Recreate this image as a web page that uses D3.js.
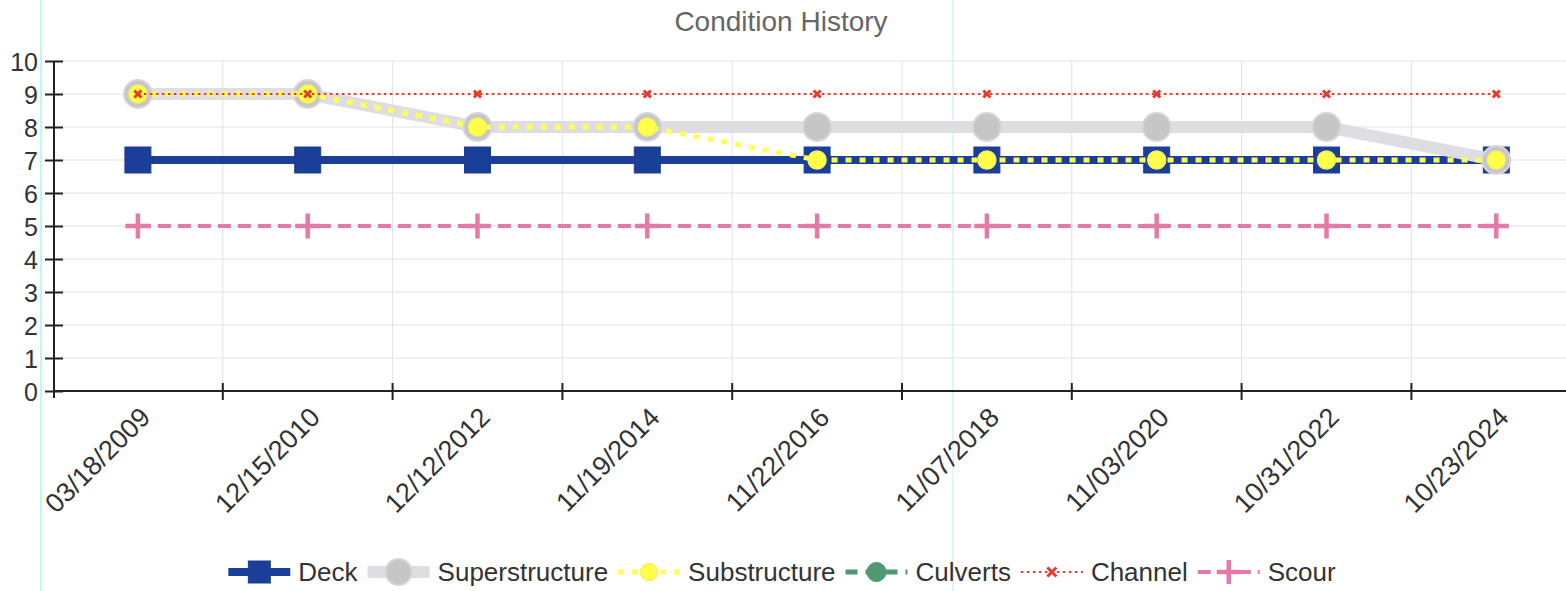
<!DOCTYPE html>
<html lang="en">
<head>
    <meta charset="UTF-8">
    <title>Condition History</title>
    <script src="https://d3js.org/d3.v7.min.js"></script>
    <style>
        body {
            margin: 0;
            background: #fff;
            font-family: "Liberation Sans", Arial, sans-serif;
        }
        svg { display: block; }
        .grid line { stroke: #e2e2e2; stroke-width: 1; }
        .axis path, .axis line { stroke: #222; stroke-width: 2; }
        .axis text { fill: #333; font-size: 25px; font-family: "Liberation Sans", Arial, sans-serif; }
    </style>
</head>
<body>
    <svg width="1566" height="591"></svg>

    <script>
        // inspection dates (x categories)
        const dates = ["03/18/2009", "12/15/2010", "12/12/2012", "11/19/2014", "11/22/2016",
                       "11/07/2018", "11/03/2020", "10/31/2022", "10/23/2024"];

        // ratings per component
        const deck           = [7, 7, 7, 7, 7, 7, 7, 7, 7];
        const superstructure = [9, 9, 8, 8, 8, 8, 8, 8, 7];
        const substructure   = [9, 9, 8, 8, 7, 7, 7, 7, 7];
        const culverts       = [null, null, null, null, null, null, null, null, null];
        const channel        = [9, 9, 9, 9, 9, 9, 9, 9, 9];
        const scour          = [5, 5, 5, 5, 5, 5, 5, 5, 5];

        const yTicks = [0, 1, 2, 3, 4, 5, 6, 7, 8, 9, 10];

        const width = 1566;
        const height = 591;
        const svg = d3.select("svg");

        const x = d3.scaleBand().domain(dates).range([53, 53 + 9 * 169.8]);
        const y = d3.scaleLinear().domain([0, 10]).range([391, 61]);
        const cx = d => x(d) + x.bandwidth() / 2;

        // scan artefact lines
        svg.append("line").attr("x1", 41).attr("x2", 41).attr("y1", 0).attr("y2", height)
            .attr("stroke", "#aef0f2").attr("stroke-width", 1.5);
        svg.append("line").attr("x1", 953).attr("x2", 953).attr("y1", 0).attr("y2", height)
            .attr("stroke", "#c8f4f4").attr("stroke-width", 1.2);

        // title
        svg.append("text")
            .attr("x", 781).attr("y", 31)
            .attr("text-anchor", "middle")
            .attr("fill", "#666")
            .style("font-size", "28px")
            .text("Condition History");

        // gridlines
        const grid = svg.append("g").attr("class", "grid");
        grid.selectAll(".h").data(yTicks.slice(1)).join("line")
            .attr("x1", 54).attr("x2", width)
            .attr("y1", d => y(d)).attr("y2", d => y(d));
        grid.selectAll(".v").data(dates.slice(1)).join("line")
            .attr("x1", d => x(d)).attr("x2", d => x(d))
            .attr("y1", 61).attr("y2", 391);

        // y axis
        const yAxis = svg.append("g").attr("class", "axis")
            .attr("transform", "translate(54,0)")
            .call(d3.axisLeft(y).tickValues(yTicks).tickSize(9).tickPadding(7).tickSizeOuter(0));
        yAxis.selectAll(".tick line").attr("x2", 9).attr("x1", -9);
        yAxis.select(".domain").attr("d", "M0,61V398");
        yAxis.selectAll(".tick text").attr("x", -16).attr("dy", "0.36em");

        // x axis
        const xAxis = svg.append("g").attr("class", "axis")
            .attr("transform", "translate(0,391)");
        xAxis.append("line").attr("x1", 54).attr("x2", width).attr("y1", 0).attr("y2", 0);
        xAxis.selectAll(".xt").data(dates.slice(1)).join("line")
            .attr("x1", d => x(d)).attr("x2", d => x(d))
            .attr("y1", -8).attr("y2", 9);
        xAxis.selectAll(".xl").data(dates).join("text")
            .attr("text-anchor", "end")
            .style("font-size", "27px")
            .attr("transform", d => `translate(${cx(d) + 14},${28}) rotate(-45)`)
            .text(d => d);

        // marker shapes
        function marker(sel, type, size, fill, stroke, sw) {
            if (type === "square") {
                sel.append("rect").attr("x", -size / 2).attr("y", -size / 2)
                    .attr("width", size).attr("height", size)
                    .attr("fill", fill).attr("stroke", stroke).attr("stroke-width", sw);
            } else if (type === "circle") {
                sel.append("circle").attr("r", size / 2)
                    .attr("fill", fill).attr("stroke", stroke).attr("stroke-width", sw);
            } else if (type === "cross") {
                const s = size / 2;
                sel.append("path").attr("d", `M${-s},${-s}L${s},${s}M${-s},${s}L${s},${-s}`)
                    .attr("stroke", stroke).attr("stroke-width", sw).attr("fill", "none");
            } else if (type === "plus") {
                const s = size / 2;
                sel.append("path").attr("d", `M${-s},0H${s}M0,${-s}V${s}`)
                    .attr("stroke", stroke).attr("stroke-width", sw).attr("fill", "none");
            } else if (type === "hex") {
                sel.append("path").attr("d", d3.symbol(d3.symbolCircle, size * size * 0.8)())
                    .attr("fill", fill).attr("stroke", stroke).attr("stroke-width", sw);
            }
        }

        const series = [
            { name: "Deck", values: deck, color: "#1b3f98", width: 8, dash: null,
              mk: "square", size: 26, fill: "#1b3f98", mstroke: "#1b3f98", msw: 1,
              lsize: 22 },
            { name: "Superstructure", values: superstructure, color: "#dedee2", width: 12, dash: null,
              mk: "circle", size: 28, fill: "#c6c6c9", mstroke: "#d6d6d8", msw: 2,
              lsize: 26 },
            { name: "Substructure", values: substructure, color: "#ffff55", width: 5, dash: "6,8",
              mk: "circle", size: 18, fill: "#ffff4a", mstroke: "#f4f060", msw: 1.5,
              lsize: 17 },
            { name: "Culverts", values: culverts, color: "#4f9a72", width: 5, dash: "12,8",
              mk: "hex", size: 18, fill: "#4f9a72", mstroke: "#4f9a72", msw: 1,
              lsize: 19 },
            { name: "Channel", values: channel, color: "#e53a2e", width: 2.2, dash: "2.5,3.5",
              mk: "cross", size: 7, fill: "none", mstroke: "#e53a2e", msw: 3,
              lsize: 9 },
            { name: "Scour", values: scour, color: "#e37aa8", width: 4, dash: "13,7",
              mk: "plus", size: 25, fill: "none", mstroke: "#e37aa8", msw: 4.5,
              lsize: 24 }
        ];

        const line = d3.line()
            .defined(d => d.v != null)
            .x(d => cx(d.date))
            .y(d => y(d.v));

        const plot = svg.append("g");
        series.forEach(s => {
            const pts = dates.map((date, i) => ({ date, v: s.values[i] }));
            const g = plot.append("g");
            g.append("path").datum(pts)
                .attr("d", line)
                .attr("fill", "none")
                .attr("stroke", s.color)
                .attr("stroke-width", s.width)
                .attr("stroke-dasharray", s.dash);
            g.selectAll(".m").data(pts.filter(p => p.v != null)).join("g")
                .attr("transform", p => `translate(${cx(p.date)},${y(p.v)})`)
                .each(function () { marker(d3.select(this), s.mk, s.size, s.fill, s.mstroke, s.msw); });
        });

        // legend
        const legend = svg.append("g").attr("transform", "translate(0,572)");
        const items = legend.selectAll("g").data(series).join("g");
        items.append("line")
            .attr("x1", 0).attr("x2", 62).attr("y1", 0).attr("y2", 0)
            .attr("stroke", d => d.color)
            .attr("stroke-width", d => d.width)
            .attr("stroke-dasharray", d => d.dash);
        items.append("g").attr("transform", "translate(31,0)")
            .each(function (d) { marker(d3.select(this), d.mk, d.lsize, d.fill, d.mstroke, d.msw); });
        items.append("text")
            .attr("x", 70).attr("dy", "0.36em")
            .attr("fill", "#333")
            .style("font-size", "26px")
            .text(d => d.name);

        let widths = [];
        items.each(function () { widths.push(70 + d3.select(this).select("text").node().getComputedTextLength()); });
        const gap = 10;
        const total = d3.sum(widths) + gap * (widths.length - 1);
        let pos = 782 - total / 2;
        items.attr("transform", (d, i) => {
            const t = `translate(${pos},0)`;
            pos += widths[i] + gap;
            return t;
        });
    </script>
</body>
</html>
